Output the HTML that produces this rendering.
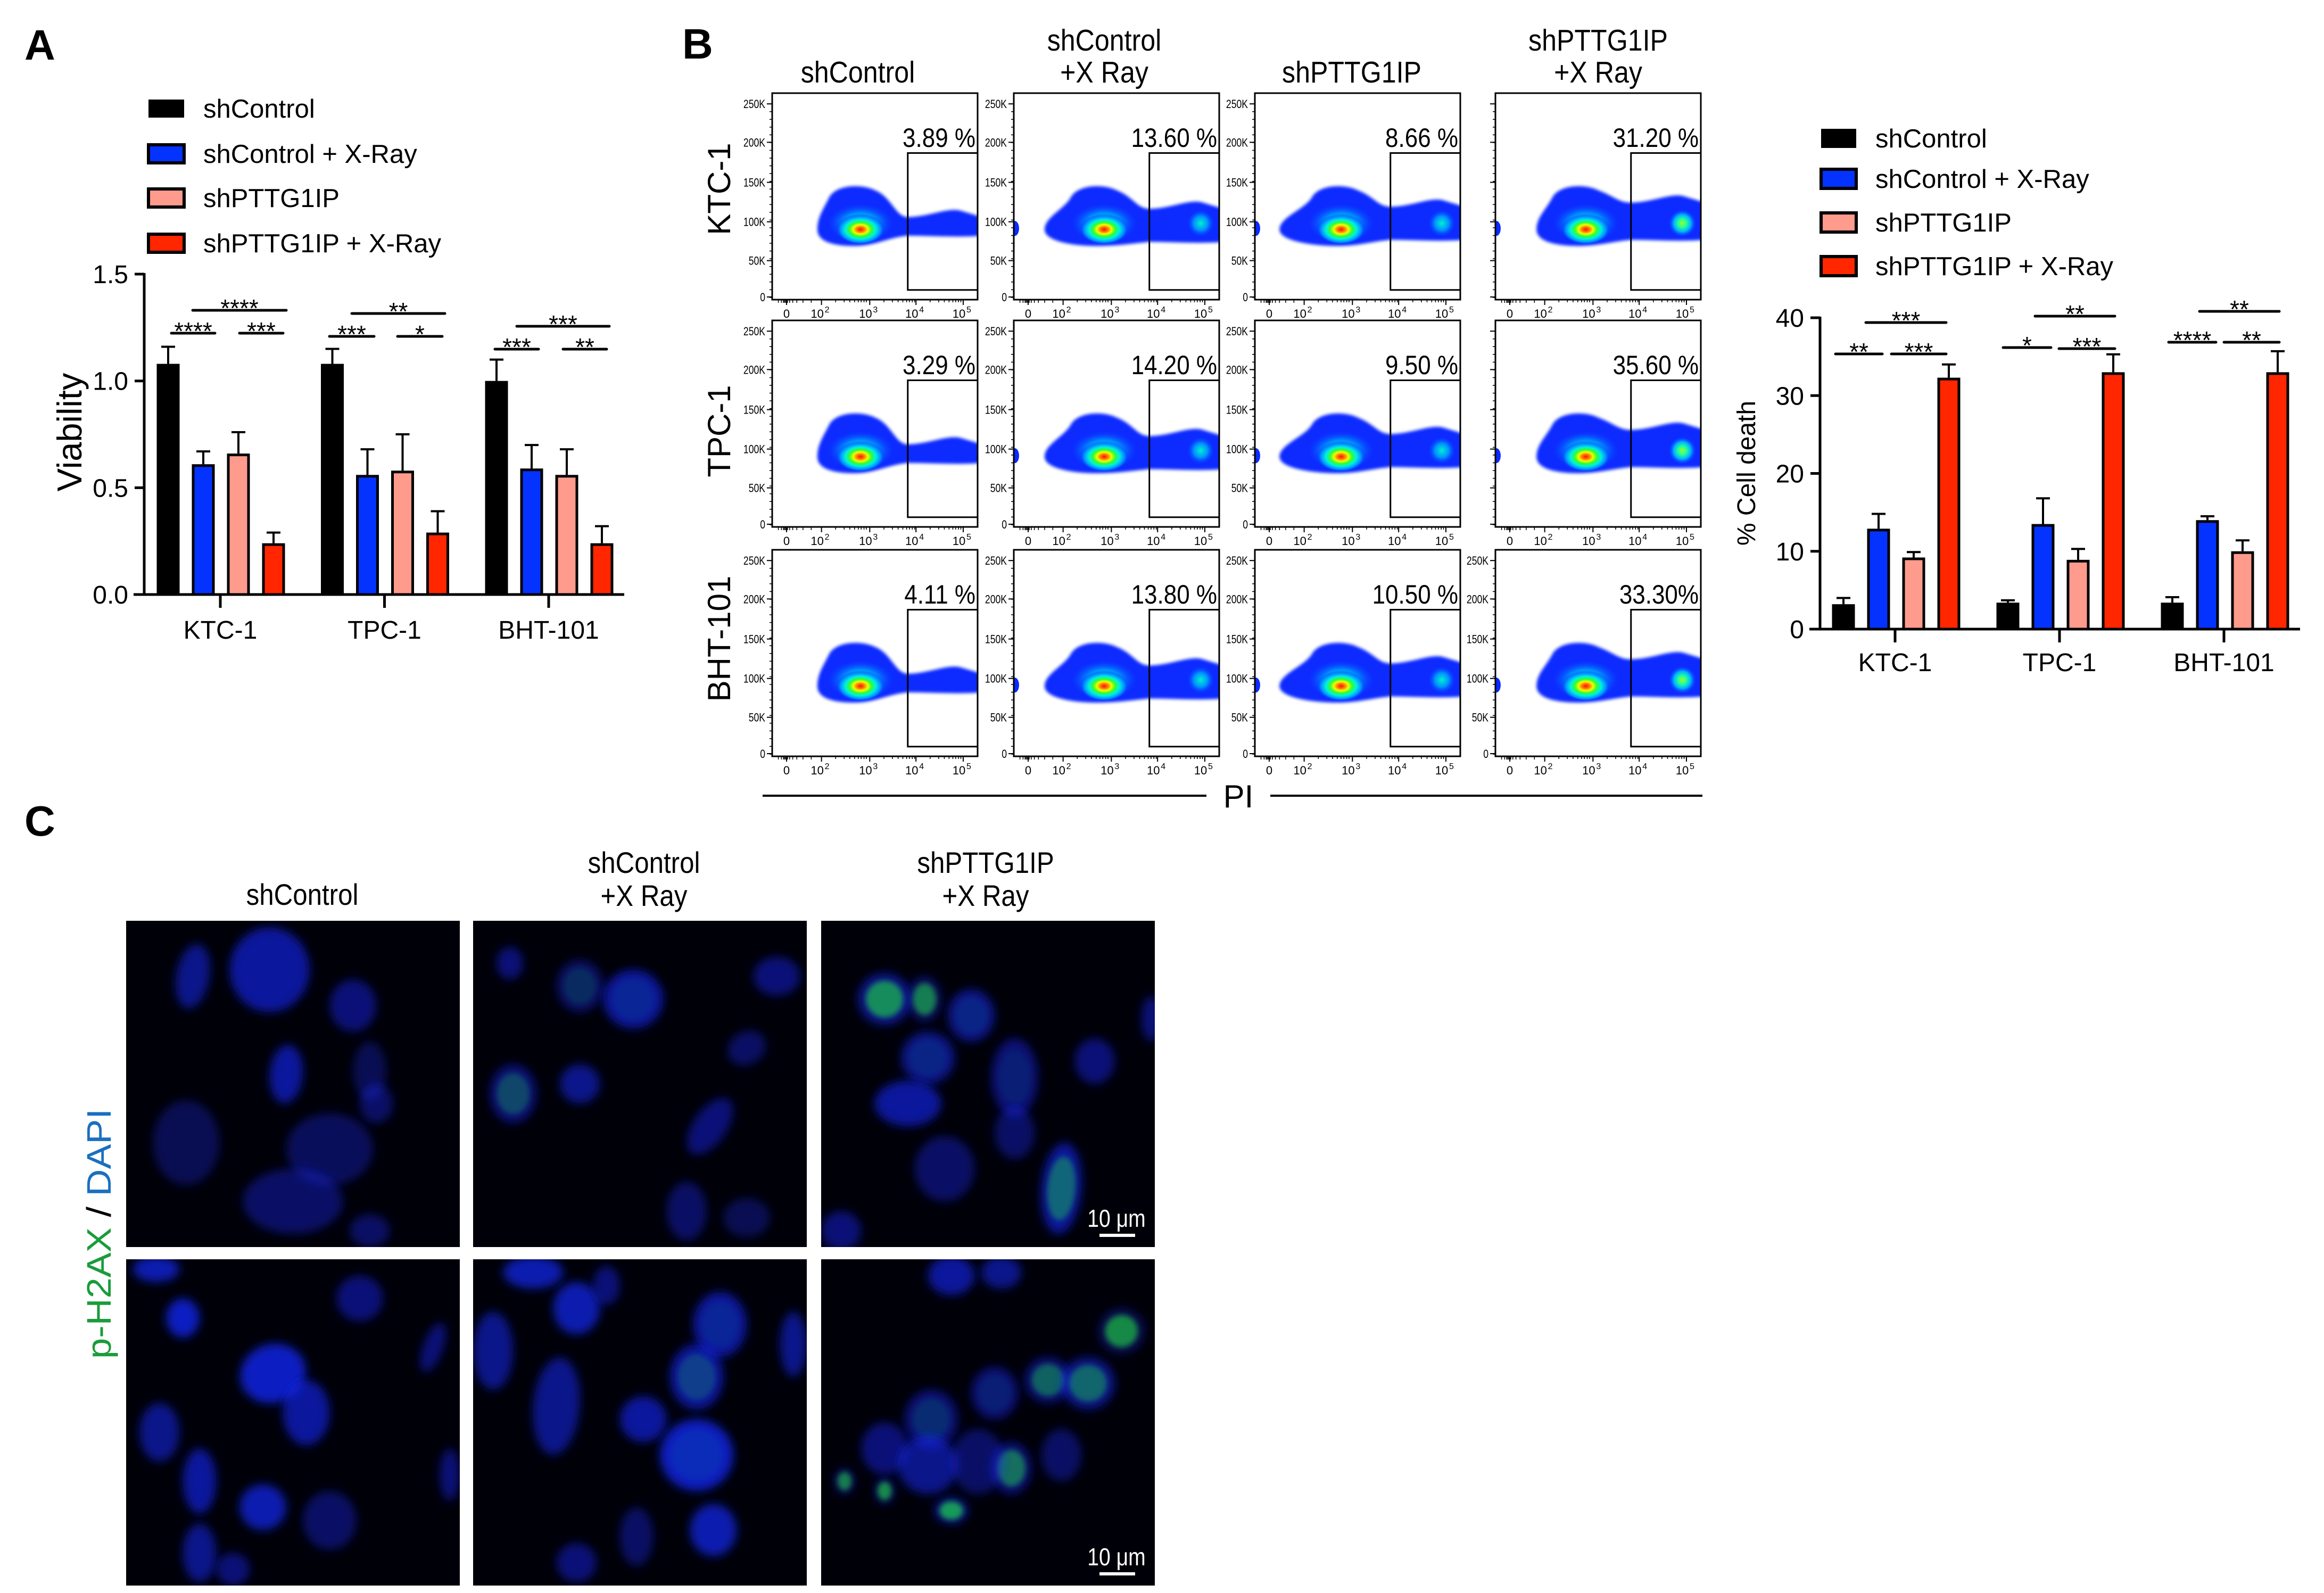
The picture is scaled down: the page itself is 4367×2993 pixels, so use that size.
<!DOCTYPE html>
<html><head><meta charset="utf-8"><title>Figure</title>
<style>
html,body{margin:0;padding:0;background:#fff;}
svg{display:block;font-family:"Liberation Sans",Arial,sans-serif;}
</style></head>
<body>
<svg id="fig" width="4367" height="2993" viewBox="0 0 4367 2993" xmlns="http://www.w3.org/2000/svg">
<defs>
  <radialGradient id="hot" cx="50%" cy="50%" r="50%">
    <stop offset="0" stop-color="#ff1200"/>
    <stop offset="0.16" stop-color="#ff7a00"/>
    <stop offset="0.3" stop-color="#f0ff00"/>
    <stop offset="0.45" stop-color="#30ff30"/>
    <stop offset="0.62" stop-color="#00f0e0"/>
    <stop offset="0.82" stop-color="#0090ff"/>
    <stop offset="1" stop-color="#0a2aff" stop-opacity="0"/>
  </radialGradient>
  <radialGradient id="warm" cx="50%" cy="50%" r="50%">
    <stop offset="0" stop-color="#a0ff20"/>
    <stop offset="0.3" stop-color="#20ffa0"/>
    <stop offset="0.6" stop-color="#00b0ff"/>
    <stop offset="1" stop-color="#0a2aff" stop-opacity="0"/>
  </radialGradient>
  <radialGradient id="cool" cx="50%" cy="50%" r="50%">
    <stop offset="0" stop-color="#00f0d0"/>
    <stop offset="0.5" stop-color="#0090ff"/>
    <stop offset="1" stop-color="#0a2aff" stop-opacity="0"/>
  </radialGradient>
  <filter id="soft" x="-20%" y="-20%" width="140%" height="140%"><feGaussianBlur stdDeviation="3"/></filter>
  <filter id="nuc" x="-50%" y="-50%" width="200%" height="200%"><feGaussianBlur stdDeviation="9"/></filter>
  <filter id="grn" x="-50%" y="-50%" width="200%" height="200%"><feGaussianBlur stdDeviation="5"/></filter>
</defs>
<g id="root"></g>
</svg>
<script>
// ---------- Panel A data ----------
const catsA = ['KTC-1','TPC-1','BHT-101'];
const viabCtrl   = [1.08, 1.08, 1.00];
const viabCtrlX  = [0.61, 0.56, 0.59];
const viabSh     = [0.66, 0.58, 0.56];
const viabShX    = [0.24, 0.29, 0.24];
const viabCtrlErr  = [0.08, 0.07, 0.10];
const viabCtrlXErr = [0.06, 0.12, 0.11];
const viabShErr    = [0.10, 0.17, 0.12];
const viabShXErr   = [0.05, 0.10, 0.08];
const yTicksA = [0, 0.5, 1.0, 1.5];
const yTickLabelsA = ['0.0','0.5','1.0','1.5'];
// ---------- Panel B bar data ----------
const catsB = ['KTC-1','TPC-1','BHT-101'];
const deathCtrl   = [3.2, 3.4, 3.4];
const deathCtrlX  = [12.9, 13.5, 14.0];
const deathSh     = [9.2, 8.9, 10.0];
const deathShX    = [32.3, 33.0, 33.0];
const deathCtrlErr  = [0.8, 0.3, 0.7];
const deathCtrlXErr = [1.9, 3.3, 0.5];
const deathShErr    = [0.7, 1.4, 1.4];
const deathShXErr   = [1.7, 2.3, 2.7];
const yTicksB = [0, 10, 20, 30, 40];
const yTickLabelsB = ['0','10','20','30','40'];
// ---------- Flow data ----------
const flowRows = ['KTC-1','TPC-1','BHT-101'];
const flowCols = [['shControl'],['shControl','+X Ray'],['shPTTG1IP'],['shPTTG1IP','+X Ray']];
const flowPct = [
  ['3.89 %','13.60 %','8.66 %','31.20 %'],
  ['3.29 %','14.20 %','9.50 %','35.60 %'],
  ['4.11 %','13.80 %','10.50 %','33.30%']
];
const legendNames = ['shControl','shControl + X-Ray','shPTTG1IP','shPTTG1IP + X-Ray'];
const colors = ['#000000','#0433ff','#ff9b8c','#ff2600'];

const NS='http://www.w3.org/2000/svg';
const root=document.getElementById('root');
function el(tag, attrs, parent){
  const e=document.createElementNS(NS,tag);
  for(const k in attrs) e.setAttribute(k, attrs[k]);
  (parent||root).appendChild(e);
  return e;
}
function txt(s, attrs, parent){ const t=el('text', attrs, parent); t.textContent=s; return t; }

let t;
t=txt('A',{x:46,y:112,'font-size':80,'font-weight':'bold'});
 
t=txt('B',{x:1282,y:110,'font-size':80,'font-weight':'bold'});
 
t=txt('C',{x:46,y:1570,'font-size':80,'font-weight':'bold'});
 

function barChart(cfg){
  const g=el('g',{});
  
  
  const y=v=>cfg.y0 - v*cfg.k;
  const lg=el('g',{},g);
  
  
  legendNames.forEach((n,i)=>{
    const cy=cfg.legY[i];
    const r=el('rect',{x:cfg.legX+2,y:cy-cfg.sw/2+2,width:cfg.swW-4,height:cfg.sw-4,fill:colors[i],stroke:'#000','stroke-width':i==0?0:6},lg);
    
    
    const tt=txt(n,{x:cfg.legTX,y:cy+17,'font-size':49},lg);
    
    
  });
  const series=cfg.series, errs=cfg.errs;
  series.forEach((vals,si)=>{
    vals.forEach((v,ci)=>{
      const cx=cfg.c0+cfg.gstep*ci+(si-1.5)*cfg.bstep+cfg.boff;
      const top=y(v), topE=y(v+errs[si][ci]);
      const e1=el('line',{x1:cx,x2:cx,y1:top,y2:topE,stroke:'#000','stroke-width':4},g);
      
      
      const e2=el('line',{x1:cx-13,x2:cx+13,y1:topE,y2:topE,stroke:'#000','stroke-width':4},g);
      
      
      const r=el('rect',{x:cx-cfg.bw/2+2.5,y:top+2.5,width:cfg.bw-5,height:cfg.y0-top-2.5,fill:colors[si],stroke:'#000','stroke-width':5},g);
      
      
    });
  });
  const ya=el('line',{x1:cfg.ax,x2:cfg.ax,y1:y(cfg.ticks[cfg.ticks.length-1])-2,y2:cfg.y0+2.5,stroke:'#000','stroke-width':5},g);
   
  const xa=el('line',{x1:cfg.ax-20,x2:cfg.axEnd,y1:cfg.y0,y2:cfg.y0,stroke:'#000','stroke-width':5},g);
   
  cfg.ticks.forEach((v,i)=>{
    const tk=el('line',{x1:cfg.ax-18,x2:cfg.ax,y1:y(v),y2:y(v),stroke:'#000','stroke-width':5},g);
     
    const tl=txt(cfg.tickLabels[i],{x:cfg.ax-30,y:y(v)+17,'font-size':48,'text-anchor':'end'},g);
     
  });
  cfg.cats.forEach((c,i)=>{
    const cx=cfg.c0+cfg.gstep*i;
    const tk=el('line',{x1:cx,x2:cx,y1:cfg.y0,y2:cfg.y0+25,stroke:'#000','stroke-width':5},g);
     
    const tl=txt(c,{x:cx,y:cfg.catY,'font-size':48,'text-anchor':'middle'},g);
     
  });
  const yl=txt(cfg.ylabel,{x:0,y:0,'font-size':cfg.ylFont,'text-anchor':'middle',transform:`translate(${cfg.ylX},${cfg.ylY}) rotate(-90)`,'xml:space':'preserve'},g);
   
  cfg.sig.forEach(s=>{
    const l=el('line',{x1:s[0],x2:s[1],y1:s[2],y2:s[2],stroke:'#000','stroke-width':5,'stroke-linecap':'round'},g);
     
    const st=txt(s[3],{x:(s[0]+s[1])/2,y:s[2]+12,'font-size':46,'text-anchor':'middle'},g);
     
  });
}

barChart({name:'viability-chart',cats:catsA,
  series:[viabCtrl,viabCtrlX,viabSh,viabShX],errs:[viabCtrlErr,viabCtrlXErr,viabShErr,viabShXErr],
  y0:1117,k:401.3,ax:271,axEnd:1173,c0:414,gstep:308.5,bstep:66,boff:1,bw:43,
  ticks:yTicksA,tickLabels:yTickLabelsA,catY:1200,ylabel:'Viability',ylFont:65,ylX:153,ylY:812,
  legX:277,legTX:382,swW:71,sw:38,legY:[204,289,372,457],
  sig:[[362,538,583,'****'],[322,404,626,'****'],[450,532,626,'***'],
       [661,836,589,'**'],[619,703,632,'***'],[747,831,632,'*'],
       [971,1145,613,'***'],[930,1012,656,'***'],[1058,1140,656,'**']]});

barChart({name:'cell-death-chart',cats:catsB,
  series:[deathCtrl,deathCtrlX,deathSh,deathShX],errs:[deathCtrlErr,deathCtrlXErr,deathShErr,deathShXErr],
  y0:1182,k:14.625,ax:3420,axEnd:4322,c0:3561,gstep:309,bstep:66,boff:2,bw:43,
  ticks:yTicksB,tickLabels:yTickLabelsB,catY:1261,ylabel:'%  Cell death',ylFont:48,ylX:3298,ylY:889,
  legX:3420,legTX:3524,swW:70,sw:40,legY:[260,336,418,500],
  sig:[[3506,3657,606,'***'],[3449,3537,665,'**'],[3554,3657,665,'***'],
       [3824,3974,594,'**'],[3764,3854,653,'*'],[3869,3974,655,'***'],
       [4133,4283,585,'**'],[4075,4164,643,'****'],[4179,4283,643,'**']]});

// ---------- Flow cytometry grid ----------
const colL=[1451,1905,2358,2810], rowT=[175,602,1033], FW=386, FH=388;
const headX=[1612,2075,2540,3003];
const blobP=[
  {uL:0.22,tt:0.60,tb:0.69,hx:0.43,spot:null},
  {uL:0.15,tt:0.56,tb:0.72,hx:0.44,spot:'cool'},
  {uL:0.12,tt:0.55,tb:0.71,hx:0.42,spot:'cool'},
  {uL:0.20,tt:0.53,tb:0.71,hx:0.44,spot:'warm'}];
const fg=el('g',{});


flowCols.forEach((lines,c)=>{
  lines.forEach((s,li)=>{
    const yy= lines.length==1 ? 155 : (li==0?95:155);
    const h=txt(s,{x:0,y:0,'font-size':57,'text-anchor':'middle',transform:`translate(${headX[c]},${yy}) scale(0.88,1)`},fg);
     
  });
});
const rowLabY=[355,810,1200];
flowRows.forEach((rname,r)=>{
  const rl=txt(rname,{x:0,y:0,'font-size':60,'text-anchor':'middle',transform:`translate(${1372},${rowLabY[r]}) rotate(-90)`},fg);
   
  colL.forEach((x0,c)=>{
    const y0=rowT[r];
    const g=el('g',{},fg);
    
    
    const clipId='clip'+r+c;
    const cp=el('clipPath',{id:clipId},g);
    el('rect',{x:x0,y:y0,width:FW,height:FH},cp);
    const P=blobP[c];
    const X=u=>x0+u*FW, Y=v=>y0+v*FH;
    const bg=el('g',{'clip-path':`url(#${clipId})`},g);
    const d=`M${X(P.uL)},${Y(0.66)} C${X(P.uL)},${Y(0.6)} ${X(0.25)},${Y(0.56)} ${X(0.28)},${Y(0.5)} C${X(0.32)},${Y(0.44)} ${X(0.44)},${Y(0.44)} ${X(0.5)},${Y(0.47)} C${X(0.58)},${Y(0.5)} ${X(0.6)},${Y(P.tt)} ${X(0.66)},${Y(P.tt)} C${X(0.76)},${Y(P.tt)} ${X(0.86)},${Y(P.tt-0.05)} ${X(0.92)},${Y(P.tt-0.03)} L${X(1.02)},${Y(P.tt)} L${X(1.02)},${Y(P.tb)} C${X(0.9)},${Y(P.tb+0.01)} ${X(0.78)},${Y(P.tb)} ${X(0.66)},${Y(P.tb)} C${X(0.56)},${Y(P.tb+0.01)} ${X(0.5)},${Y(0.74)} ${X(0.4)},${Y(0.74)} C${X(0.3)},${Y(0.74)} ${X(P.uL)},${Y(0.72)} ${X(P.uL)},${Y(0.66)} Z`;
    const b=el('path',{d:d,fill:'#0a2aff',filter:'url(#soft)'},bg);
     
    el('ellipse',{cx:X(P.hx),cy:Y(0.63),rx:FW*0.17,ry:FH*0.1,fill:'url(#cool)'},bg);
    const hs=el('ellipse',{cx:X(P.hx),cy:Y(0.66),rx:FW*0.12,ry:FH*0.075,fill:'url(#hot)'},bg);
     
    if(P.spot){ el('ellipse',{cx:X(0.91),cy:Y(0.63),rx:FW*0.07,ry:FH*0.07,fill:`url(#${P.spot})`},bg); }
    if(c>0){ el('ellipse',{cx:X(0.005),cy:Y(0.655),rx:8,ry:14,fill:'#0a2aff'},bg); }
    const fr=el('rect',{x:x0,y:y0,width:FW,height:FH,fill:'none',stroke:'#000','stroke-width':3},g);
     
    const gt=el('rect',{x:X(0.66),y:Y(0.29),width:FW*0.34,height:FH*0.663,fill:'none',stroke:'#000','stroke-width':3},g);
     
    const pt=txt(flowPct[r][c],{x:0,y:0,'font-size':50,'text-anchor':'end',transform:`translate(${x0+FW-4},${Y(0.26)}) scale(0.88,1)`},g);
     
    const yt=[0.052,0.238,0.432,0.623,0.811,0.987], ytl=['250K','200K','150K','100K','50K','0'];
    yt.forEach((v,i)=>{
      el('line',{x1:x0-10,x2:x0,y1:Y(v),y2:Y(v),stroke:'#000','stroke-width':2},g);
      if(!(c==3 && r<2)){
        const l=txt(ytl[i],{x:0,y:0,'font-size':22,'text-anchor':'end',transform:`translate(${x0-13},${Y(v)+8}) scale(0.8,1)`},g);
         
      }
    });
    for(let v=0.052; v<0.99; v+=0.0375){ el('line',{x1:x0-5,x2:x0,y1:Y(v),y2:Y(v),stroke:'#000','stroke-width':1.5},g); }
    const xt=[0.07,0.24,0.475,0.70,0.93], xtl=['0','10','10','10','10'], xsup=['','2','3','4','5'];
    xt.forEach((u,i)=>{
      el('line',{x1:X(u),x2:X(u),y1:y0+FH,y2:y0+FH+10,stroke:'#000','stroke-width':2},g);
      const l=txt(xtl[i],{x:X(u)-(i?8:0),y:y0+FH+34,'font-size':22,'text-anchor':'middle'},g);
       
      if(xsup[i]) txt(xsup[i],{x:X(u)+6,y:y0+FH+24,'font-size':16},g);
    });
    for(let dd=1; dd<4; dd++){
      [0.3,0.48,0.6,0.7,0.78,0.84,0.9,0.95].forEach(f=>{
        const base=[0.24,0.475,0.70][dd-1]; const u=base+f*0.23;
        if(u<1) el('line',{x1:X(u),x2:X(u),y1:y0+FH,y2:y0+FH+5,stroke:'#000','stroke-width':1.5},g);
      });
    }
    [0.03,0.045,0.055,0.06,0.065,0.075,0.085,0.1,0.12,0.15,0.19].forEach(u=>el('line',{x1:X(u),x2:X(u),y1:y0+FH,y2:y0+FH+6,stroke:'#000','stroke-width':1.5},g));
  });
});
let ln=el('line',{x1:1433,x2:2267,y1:1495,y2:1495,stroke:'#000','stroke-width':4},fg);
 
ln=el('line',{x1:2387,x2:3199,y1:1495,y2:1495,stroke:'#000','stroke-width':4},fg);
 
t=txt('PI',{x:2327,y:1517,'font-size':60,'text-anchor':'middle'},fg);
 

// ---------- Panel C immunofluorescence ----------
const cg=el('g',{});


const imgL=[237,889,1543], imgT=[1730,2366], IW=627, IH=613;
const cHeads=[['shControl'],['shControl','+X Ray'],['shPTTG1IP','+X Ray']];
const cHeadX=[568,1210,1852];
cHeads.forEach((lines,c)=>{
  lines.forEach((s,li)=>{
    const yy= lines.length==1 ? 1700 : (li==0?1640:1702);
    const h=txt(s,{x:0,y:0,'font-size':56,'text-anchor':'middle',transform:`translate(${cHeadX[c]},${yy}) scale(0.88,1)`},cg);
     
  });
});
const yl=el('text',{x:0,y:0,'font-size':64,'text-anchor':'middle',textLength:470,lengthAdjust:'spacingAndGlyphs',transform:'translate(208,2318) rotate(-90)'},cg);
 
const ts1=el('tspan',{fill:'#1a9c3a'},yl); ts1.textContent='p-H2AX';
const ts2=el('tspan',{fill:'#000'},yl); ts2.textContent=' / ';
const ts3=el('tspan',{fill:'#1a6fc0'},yl); ts3.textContent='DAPI';
const nuclei=[
 [[.2,.17,.05,.1,10,.7,0],[.43,.15,.12,.13,0,.8,0],[.68,.26,.07,.08,0,.6,0],[.48,.47,.05,.09,5,.8,0],[.73,.46,.05,.09,0,.4,0],[.75,.56,.05,.06,0,.5,0],[.18,.68,.1,.13,0,.4,0],[.61,.7,.13,.11,0,.45,0],[.5,.86,.15,.1,0,.5,0],[.73,.95,.06,.05,0,.5,0]],
 [[.11,.13,.04,.05,0,.6,0],[.32,.2,.07,.08,0,.5,.2],[.48,.24,.09,.09,0,.8,.1],[.91,.17,.07,.06,0,.6,0],[.82,.39,.06,.05,-30,.5,0],[.12,.53,.07,.09,0,.6,.4],[.32,.5,.06,.06,0,.7,0],[.71,.63,.05,.1,35,.6,0],[.64,.89,.06,.09,0,.5,0],[.82,.91,.07,.06,0,.4,0]],
 [[.19,.24,.08,.08,0,.7,.9],[.31,.24,.05,.07,0,.5,.8],[.45,.29,.07,.08,0,.7,.1],[.32,.42,.08,.08,0,.7,.1],[.26,.56,.1,.07,0,.8,0],[.58,.48,.07,.12,0,.6,.1],[.82,.43,.06,.07,0,.6,0],[.58,.65,.06,.08,0,.5,0],[.37,.76,.09,.1,0,.5,0],[.72,.82,.06,.14,5,.8,.6],[.06,.95,.06,.06,0,.6,0],[.99,.3,.03,.07,0,.6,0]],
 [[.09,.03,.07,.04,0,.9,0],[.17,.18,.05,.06,0,1,0],[.44,.35,.1,.09,-20,1,0],[.7,.12,.07,.07,0,.6,0],[.54,.47,.07,.1,0,.8,0],[.1,.53,.06,.09,0,.7,0],[.92,.27,.03,.08,20,.6,0],[.22,.68,.05,.1,0,.8,0],[.41,.76,.07,.07,0,.9,0],[.61,.8,.08,.09,0,.5,0],[.22,.9,.05,.09,0,.7,0],[.97,.66,.03,.08,0,.6,0],[.32,.95,.05,.05,0,.6,0]],
 [[.18,.04,.09,.05,0,.9,0],[.31,.15,.07,.08,0,.9,0],[.06,.28,.06,.12,0,.7,0],[.25,.45,.07,.15,5,.7,0],[.67,.36,.08,.1,0,.8,.3],[.74,.2,.08,.1,0,.8,.1],[.51,.49,.07,.07,0,.8,0],[.67,.6,.11,.11,0,1,.1],[.96,.26,.04,.1,0,.7,0],[.72,.83,.07,.08,0,.9,0],[.49,.85,.05,.09,0,.5,0],[.31,.93,.06,.06,0,.6,0],[.4,.08,.04,.06,0,.6,0]],
 [[.39,.05,.07,.06,0,.8,0],[.54,.04,.06,.05,0,.7,0],[.9,.22,.07,.07,-20,.4,.9],[.68,.37,.07,.07,0,.6,.6],[.8,.38,.08,.08,0,.7,.6],[.52,.41,.07,.08,0,.6,.1],[.33,.49,.08,.09,0,.6,.2],[.19,.58,.07,.08,0,.6,0],[.32,.63,.09,.09,0,.7,0],[.57,.64,.06,.08,0,.6,.7],[.39,.77,.05,.04,0,.7,1],[.19,.71,.03,.04,0,.5,.9],[.72,.6,.06,.08,0,.5,0],[.07,.68,.03,.04,0,.5,.8],[.47,.62,.08,.1,0,.5,0]]
];
imgT.forEach((y0,r)=>{
  imgL.forEach((x0,c)=>{
    const g=el('g',{},cg);
    
    
    const clipId='cclip'+r+c;
    const cp=el('clipPath',{id:clipId},g);
    el('rect',{x:x0,y:y0,width:IW,height:IH},cp);
    el('rect',{x:x0,y:y0,width:IW,height:IH,fill:'#000008'},g);
    const ig=el('g',{'clip-path':`url(#${clipId})`},g);
    nuclei[r*3+c].forEach(n=>{
      const cx=x0+n[0]*IW, cy=y0+n[1]*IH;
      const e=el('ellipse',{cx:cx,cy:cy,rx:n[2]*IW,ry:n[3]*IH,fill:'#1428ff','fill-opacity':n[5]*0.75,filter:'url(#nuc)',transform:`rotate(${n[4]},${cx},${cy})`},ig);
       
      if(n[6]>0){
        el('ellipse',{cx:cx,cy:cy,rx:n[2]*IW*0.7,ry:n[3]*IH*0.7,fill:'#20e040','fill-opacity':n[6]*0.65,filter:'url(#grn)',transform:`rotate(${n[4]},${cx},${cy})`},ig);
      }
    });
    if(c==2){
      const sy=y0+IH-22;
      const sb=el('line',{x1:2066,x2:2133,y1:sy,y2:sy,stroke:'#fff','stroke-width':6},g);
       
      const st=txt('10 μm',{x:0,y:0,'font-size':46,'fill':'#fff','text-anchor':'middle',transform:`translate(2098,${sy-16}) scale(0.85,1)`},g);
       
    }
  });
});
</script>
</body></html>
